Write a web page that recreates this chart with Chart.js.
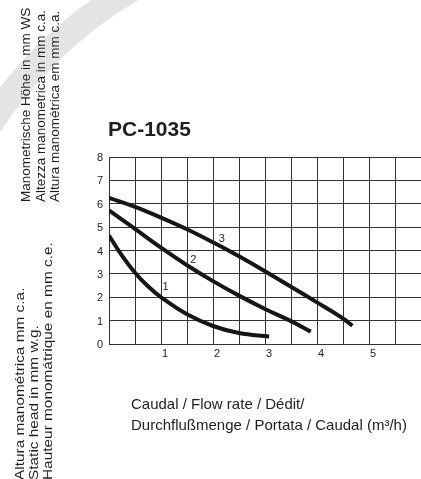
<!DOCTYPE html>
<html>
<head>
<meta charset="utf-8">
<script src="https://cdn.jsdelivr.net/npm/chart.js"></script>
<style>
  html, body { margin: 0; padding: 0; background: #fff; }
  body { width: 421px; height: 479px; overflow: hidden; position: relative;
         font-family: "Liberation Sans", Arial, sans-serif; color: #1e1e1e; }
  #ring { position: absolute; left: -92px; top: -82px; width: 876px; height: 876px;
          box-sizing: border-box; border: 26px solid #e4e4e4; border-radius: 50%; }
  #chart { position: absolute; left: 0; top: 0; }
  .side { position: absolute; transform-origin: 0 0; white-space: pre; }
  #sideTop { left: 19px; top: 202px; font-size: 13.5px; line-height: 14.5px; transform: rotate(-90deg); }
  #sideBottom { left: 13px; top: 480px; font-size: 13.5px; line-height: 14px; transform: rotate(-90deg) scaleX(1.14); }
  #title { position: absolute; left: 108px; top: 119px; font-size: 21px; line-height: 20px; font-weight: bold; }
  #xTitle { position: absolute; left: 131px; top: 393px; font-size: 15px; line-height: 21px; white-space: pre; }
</style>
</head>
<body>
<div id="ring"></div>
<canvas id="chart" width="480" height="479"></canvas>
<div class="side" id="sideTop">Manometrische Höhe in mm WS
Altezza manometrica in mm c.a.
Altura manométrica em mm c.a.</div>
<div class="side" id="sideBottom">Altura manométrica mm c.a.
Static head in mm w.g.
Hauteur monomátrique en mm c.e.</div>
<div id="title">PC-1035</div>
<div id="xTitle">Caudal / Flow rate / Dédit/
Durchflußmenge / Portata / Caudal (m³/h)</div>

<script>
// curve 1
const flow1 = [0, 0.25, 0.5, 0.75, 1, 1.5, 2, 2.5, 3.08];
const head1 = [4.64, 3.78, 3.05, 2.47, 2.0, 1.27, 0.77, 0.47, 0.32];
// curve 2
const flow2 = [0, 0.5, 1, 1.5, 2, 2.5, 3, 3.5, 3.88];
const head2 = [5.72, 4.92, 4.12, 3.37, 2.69, 2.07, 1.5, 0.98, 0.53];
// curve 3
const flow3 = [0, 0.5, 1, 1.5, 2, 2.5, 3, 3.5, 4, 4.5, 4.68];
const head3 = [6.25, 5.87, 5.41, 4.91, 4.35, 3.75, 3.11, 2.45, 1.78, 1.09, 0.78];

const curveNames = ['1', '2', '3'];
const nameFlow = [1.09, 1.62, 2.17];
const nameHead = [2.46, 3.58, 4.48];

const xTicks = [1, 2, 3, 4, 5, 6, 7];
const yTicks = [0, 1, 2, 3, 4, 5, 6, 7, 8];

function pts(xs, ys) {
  return xs.map((x, i) => ({ x: x, y: ys[i] }));
}

const curveStyle = {
  borderColor: '#161616',
  borderWidth: 4,
  pointRadius: 0,
  fill: false,
  tension: 0.4,
  borderCapStyle: 'butt'
};

const curveLabels = {
  id: 'curveLabels',
  afterDatasetsDraw: (chart) => {
    const ctx = chart.ctx;
    const xs = chart.scales.x, ys = chart.scales.y;
    ctx.save();
    ctx.fillStyle = '#222';
    ctx.font = '11px "Liberation Sans", Arial, sans-serif';
    ctx.textAlign = 'center';
    ctx.textBaseline = 'middle';
    curveNames.forEach((n, i) => {
      ctx.fillText(n, xs.getPixelForValue(nameFlow[i]), ys.getPixelForValue(nameHead[i]));
    });
    ctx.restore();
  }
};

const gridColor = '#333';
const tickFont = { family: '"Liberation Sans", Arial, sans-serif', size: 11 };

new Chart(document.getElementById('chart').getContext('2d'), {
  type: 'line',
  data: {
    datasets: [
      Object.assign({ data: pts(flow1, head1) }, curveStyle),
      Object.assign({ data: pts(flow2, head2) }, curveStyle),
      Object.assign({ data: pts(flow3, head3) }, curveStyle)
    ]
  },
  plugins: [curveLabels],
  options: {
    responsive: false,
    animation: false,
    devicePixelRatio: 1,
    layout: { padding: { top: 157, right: 7, left: 0, bottom: 0 } },
    plugins: { legend: { display: false }, tooltip: { enabled: false } },
    scales: {
      x: {
        type: 'linear', min: 0, max: 7,
        afterFit: (s) => { s.height = 479 - 344; },
        grid: { color: gridColor, lineWidth: 1, drawTicks: false },
        border: { color: gridColor, width: 1 },
        ticks: {
          stepSize: 0.5, padding: 3, labelOffset: 4, maxRotation: 0, autoSkip: false,
          color: '#222', font: tickFont,
          callback: (v) => xTicks.includes(v) ? String(v) : ''
        }
      },
      y: {
        type: 'linear', min: 0, max: 8,
        afterFit: (s) => { s.width = 109; },
        grid: { color: gridColor, lineWidth: 1, drawTicks: false },
        border: { color: gridColor, width: 1 },
        ticks: {
          stepSize: 1, padding: 6, labelOffset: 1, color: '#222', font: tickFont,
          callback: (v) => yTicks.includes(v) ? String(v) : ''
        }
      }
    }
  }
});
</script>
</body>
</html>
